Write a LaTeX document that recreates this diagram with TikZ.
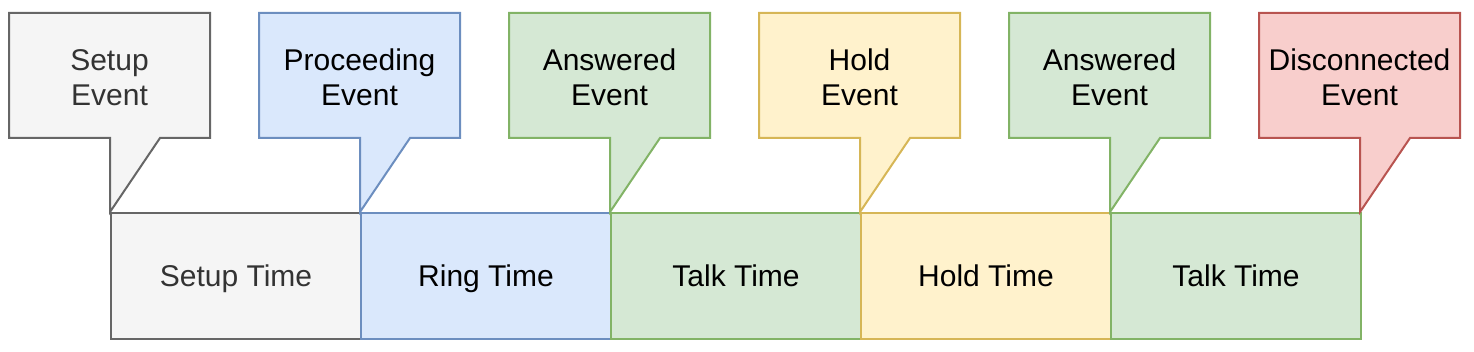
\documentclass[tikz,border=0pt]{standalone}
\usepackage{fontspec}
\setmainfont{Liberation Sans}
\definecolor{grayF}{HTML}{F5F5F5}\definecolor{grayD}{HTML}{666666}\definecolor{grayT}{HTML}{333333}
\definecolor{blueF}{HTML}{DAE8FC}\definecolor{blueD}{HTML}{6C8EBF}
\definecolor{greenF}{HTML}{D5E8D4}\definecolor{greenD}{HTML}{82B366}
\definecolor{yellowF}{HTML}{FFF2CC}\definecolor{yellowD}{HTML}{D6B656}
\definecolor{redF}{HTML}{F8CECC}\definecolor{redD}{HTML}{B85450}
\tikzset{
  lbl/.style={font=\fontsize{30}{35}\selectfont, align=center, inner sep=0pt},
  timebox/.style={lbl, line width=2pt, minimum width=250pt, minimum height=126pt, anchor=north west,
    text height=21.5pt, text depth=0pt},
  callout/.style={line width=2pt, line join=miter}
}
\newcommand\evcallout[6]{%
  \draw[callout, draw=#4, fill=#3] ({#2+9},13) -- ({#2+210},13) -- ({#2+210},138) -- ({#2+160},138)
     -- ({#2+110},212) -- ({#2+110},138) -- ({#2+9},138) -- cycle;
  \node[lbl, text=#5] (#1) at ({#2+109.5},77.5) {#6};
}
\begin{document}
\begin{tikzpicture}[x=1pt,y=-1pt]
\useasboundingbox (0,0) rectangle (1474,352);
\node[timebox, fill=grayF, draw=grayD, text=grayT] (t1) at (110,212) {Setup Time};
\node[timebox, fill=blueF, draw=blueD] (t2) at (360,212) {Ring Time};
\node[timebox, fill=greenF, draw=greenD] (t3) at (610,212) {Talk Time};
\node[timebox, fill=yellowF, draw=yellowD] (t4) at (860,212) {Hold Time};
\node[timebox, fill=greenF, draw=greenD] (t5) at (1110,212) {Talk Time};
\evcallout{e1}{0}{grayF}{grayD}{grayT}{Setup\\Event}
\evcallout{e2}{250}{blueF}{blueD}{black}{Proceeding\\Event}
\evcallout{e3}{500}{greenF}{greenD}{black}{Answered\\Event}
\evcallout{e4}{750}{yellowF}{yellowD}{black}{Hold\\Event}
\evcallout{e5}{1000}{greenF}{greenD}{black}{Answered\\Event}
\evcallout{e6}{1250}{redF}{redD}{black}{Disconnected\\Event}
\end{tikzpicture}
\end{document}
